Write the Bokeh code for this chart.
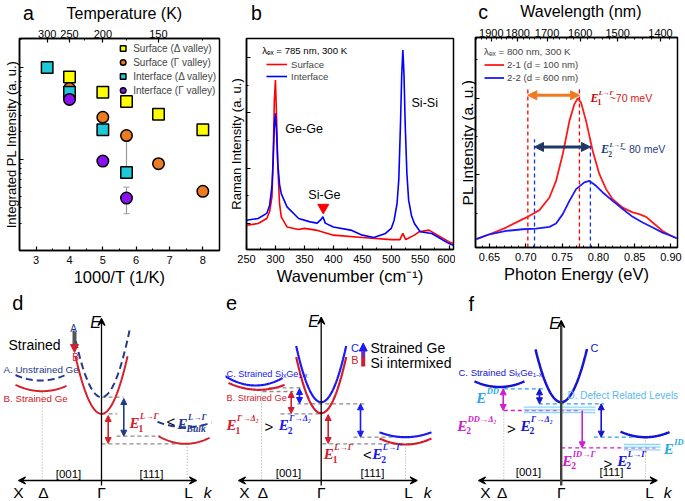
import numpy as np
from bokeh.plotting import figure
from bokeh.models import (Range1d, LinearAxis, FixedTicker, SingleIntervalTicker,
                          CustomJSTickFormatter, NumeralTickFormatter, Legend, LegendItem,
                          Arrow, NormalHead, VeeHead, ColumnDataSource, Whisker, TeeHead)
from bokeh.layouts import row, column
from bokeh.core.properties import value
from bokeh.embed import file_html
from bokeh.resources import INLINE

SANS = "Liberation Sans"
SERIF = "Liberation Serif"

# ---------------- panel a : integrated PL intensity ----------------
a_x_surf_delta = [4.0, 5.0, 5.71, 6.67, 8.0]
a_y_surf_delta = [7.9, 5.4, 4.27, 3.1, 2.1]
a_x_surf_gamma = [4.0, 5.0, 5.71, 6.67, 8.0]
a_y_surf_gamma = [5.9, 2.88, 1.82, 0.9, 0.45]
a_x_intf_delta = [3.33, 4.0, 5.0, 5.71]
a_y_intf_delta = [10.0, 5.4, 2.1, 0.72]
a_x_intf_gamma = [4.0, 5.0, 5.71]
a_y_intf_gamma = [4.5, 0.96, 0.38]
a_err_x = [5.71, 5.71]
a_err_lo = [0.74, 0.257]
a_err_hi = [1.82, 0.50]
a_temp_ticks = [300, 250, 200, 150]
a_temp_minor = [225, 175, 125]

# ---------------- panel b : Raman ----------------
b_wn_if = [250, 270, 285, 290, 294, 296, 298, 300, 302, 304, 307, 310, 320, 340, 360, 372, 378, 382,
           386, 400, 430, 450, 470, 490, 500, 505, 510, 513, 516, 518, 520, 522, 524, 527, 530, 535,
           540, 550, 570, 590, 600, 607]
b_int_if = [0.139, 0.147, 0.171, 0.21, 0.30, 0.42, 0.58, 0.645, 0.55, 0.41, 0.31, 0.265, 0.202, 0.147,
            0.131, 0.125, 0.14, 0.155, 0.125, 0.107, 0.092, 0.068, 0.057, 0.076, 0.10, 0.139, 0.218,
            0.33, 0.60, 0.82, 0.945, 0.83, 0.60, 0.36, 0.234, 0.16, 0.123, 0.084, 0.076, 0.044, 0.028,
            0.02]
b_wn_sf = [250, 270, 285, 290, 294, 296, 298, 300, 302, 304, 307, 310, 320, 340, 350, 370, 400, 450,
           500, 515, 520, 525, 540, 548, 565, 580, 600, 607]
b_int_sf = [0.115, 0.123, 0.147, 0.18, 0.25, 0.43, 0.70, 0.803, 0.62, 0.40, 0.22, 0.155, 0.107, 0.095,
            0.10, 0.092, 0.068, 0.057, 0.047, 0.047, 0.076, 0.047, 0.068, 0.084, 0.092, 0.068, 0.036,
            0.03]
b_peak_labels = ["Ge-Ge", "Si-Ge", "Si-Si"]
b_peak_x = [317, 356.7, 534.9]
b_peak_y = [0.573, 0.257, 0.692]
b_marker_x = [382.6]
b_marker_y = [0.199]

# ---------------- panel c : PL spectra ----------------
c_ev = [0.6317, 0.65, 0.6729, 0.6959, 0.7028, 0.7188, 0.7326, 0.7417, 0.7509, 0.7601, 0.767, 0.7716,
        0.7761, 0.783, 0.7922, 0.8014, 0.8106, 0.8197, 0.8335, 0.8472, 0.8564, 0.8656, 0.8748,
        0.8885, 0.90, 0.9078]
c_pl_21 = [0.040, 0.063, 0.095, 0.135, 0.146, 0.178, 0.238, 0.317, 0.444, 0.603, 0.683, 0.711, 0.690,
           0.603, 0.460, 0.349, 0.278, 0.230, 0.190, 0.167, 0.159, 0.146, 0.119, 0.079, 0.056, 0.044]
c_ev2 = [0.6317, 0.65, 0.6729, 0.6959, 0.7142, 0.7326, 0.7417, 0.7509, 0.7601, 0.7693, 0.7807, 0.7876,
         0.7968, 0.806, 0.8197, 0.8335, 0.8472, 0.861, 0.8748, 0.8885, 0.90, 0.9078]
c_pl_22 = [0.040, 0.063, 0.079, 0.087, 0.090, 0.098, 0.114, 0.159, 0.222, 0.278, 0.310, 0.317, 0.294,
           0.262, 0.222, 0.183, 0.146, 0.119, 0.095, 0.071, 0.056, 0.044]
c_wl_ticks = [1900, 1800, 1700, 1600, 1500, 1400]
c_wl_minor = list(range(1380, 1981, 20))
c_red_marks = [0.7028, 0.7739]
c_blue_marks = [0.712, 0.789]
c_red_top = 0.754
c_blue_top = 0.516
c_arrow1_y = 0.725
c_arrow2_y = 0.479

# ---------------- panels d, e, f : band schematics (reference pixel frame) ----------------
RED_D, NAVY = "#D5202B", "#1F3A8C"
RED_E, BLUE_E = "#D01E2E", "#1A1AF5"
BLUE_F, MAG, LBLUE, CYANL = "#1414D2", "#CC22CC", "#2C9CEE", "#8ED6F6"
GRAY = "#8C8C8C"

# valleys: (centre k, minimum E, curvature, k_lo, k_hi, colour, dash, width)
d_valleys = [(101, 396.7, 0.085, 73, 129, NAVY, "7 4", 2.0),
             (101, 413.3, 0.085, 75, 127, RED_D, "solid", 2.0),
             (40, 380.0, 0.0088, 15, 64, NAVY, "7 4", 2.0),
             (41.7, 390.7, 0.009, 15, 66, RED_D, "solid", 2.0),
             (185, 426.7, 0.0069, 157, 211, NAVY, "7 4", 2.0),
             (185, 443.3, 0.0105, 158, 209, RED_D, "solid", 2.0)]
e_valleys = [(320.7, 401.7, 0.09, 295.7, 345.7, BLUE_E, "solid", 2.2),
             (320.7, 412.7, 0.09, 295.7, 345.7, RED_E, "solid", 2.2),
             (255, 385.0, 0.0102, 222, 282, BLUE_E, "solid", 2.2),
             (258.3, 389.3, 0.0075, 228, 284, RED_E, "solid", 2.2),
             (405, 436.7, 0.0074, 379, 431, BLUE_E, "solid", 2.2),
             (405, 444.0, 0.009, 379, 431, RED_E, "solid", 2.2)]
f_valleys = [(560.7, 401.7, 0.08, 535, 586.5, BLUE_F, "solid", 2.5),
             (499, 386.5, 0.009, 474, 524, BLUE_F, "solid", 2.5),
             (645, 436.7, 0.009, 620, 669, BLUE_F, "solid", 2.5)]

# dashed level lines: (x0, x1, y, colour, dash)
d_levels = [(101, 123, 396.7, GRAY, "4 3"), (101, 116.7, 413.3, GRAY, "4 3"),
            (116, 160, 435.7, GRAY, "4 3"), (101, 187, 443.3, GRAY, "4 3")]
e_levels = [(268, 304, 387.3, GRAY, "4 3"), (262, 293, 391.0, GRAY, "4 3"),
            (296.7, 365, 403.3, GRAY, "4 3"), (280, 321, 413.3, GRAY, "4 3"),
            (353, 408, 436.7, GRAY, "4 3"), (321.7, 410, 443.3, GRAY, "4 3")]
f_levels = [(503.3, 545, 388.3, LBLUE, "4 3"), (538.3, 603.3, 403.3, LBLUE, "4 3"),
            (503.3, 580, 410.0, MAG, "4 3"), (593.3, 645, 436.7, LBLUE, "4 3"),
            (560.7, 655, 447.3, MAG, "4 3"),
            (523.3, 595, 406.7, CYANL, "solid"), (523.3, 595, 409.3, CYANL, "solid"),
            (523.3, 595, 412.0, CYANL, "solid"), (623.3, 660, 444.0, CYANL, "solid"),
            (623.3, 660, 446.7, CYANL, "solid"), (623.3, 660, 449.3, CYANL, "solid")]
# dotted drop lines: (x, y_top)
d_drops = [(41.7, 392), (186.7, 443.3)]
e_drops = [(261, 391), (405, 444)]
f_drops = [(503.3, 388), (645, 437)]
# axes: (k-axis x0, x1, y) and (E-axis x, y_top)
d_axes = (18, 196, 480, 101, 318)
e_axes = (238, 416.7, 480, 320.7, 316.7)
f_axes = (478, 656.7, 480, 560.7, 320)
# double arrows: (x, y0, y1, colour, heads)
d_arrows = [(123.3, 398, 435.7, NAVY, 2), (107.7, 415, 443, RED_D, 2)]
e_arrows = [(299, 388, 403, BLUE_E, 2), (290.7, 391, 413, RED_E, 2),
            (360, 403.3, 436.7, BLUE_E, 2), (327.7, 414, 443, RED_E, 2)]
f_arrows = [(539, 388.3, 403.3, BLUE_F, 2), (600.7, 403.3, 436.7, BLUE_F, 2),
            (502.7, 388.3, 410, MAG, 2), (581.7, 410, 447.3, MAG, 1)]
# texts: (x, y, text, colour, size, style, align)
KY = 491.5
d_texts = [(11.7, 302.5, "d", "black", 20, "normal", "left"),
           (95, 322, "E", "black", 16, "italic", "center"),
           (18, KY, "X", "black", 15.5, "normal", "center"), (43, KY, "Δ", "black", 15.5, "normal", "center"),
           (101, KY, "Γ", "black", 15.5, "normal", "center"), (188, KY, "L", "black", 15.5, "normal", "center"),
           (207, KY, "k", "black", 15.5, "italic", "center"),
           (68, 473, "[001]", "black", 11.5, "normal", "center"),
           (151, 473, "[111]", "black", 11.5, "normal", "center"),
           (8, 344, "Strained", "black", 14, "normal", "left"),
           (73, 328, "A", NAVY, 10, "normal", "center"), (75, 357, "B", RED_D, 10, "normal", "center"),
           (3, 369, "A. Unstrained Ge", NAVY, 9.8, "normal", "left"),
           (3, 398, "B. Strained Ge", RED_D, 9.8, "normal", "left"),
           (170.5, 421, "<", "black", 15, "normal", "center")]
e_texts = [(225.5, 302.5, "e", "black", 20, "normal", "left"),
           (313, 321, "E", "black", 16, "italic", "center"),
           (244, KY, "X", "black", 15.5, "normal", "center"), (262.5, KY, "Δ", "black", 15.5, "normal", "center"),
           (320.7, KY, "Γ", "black", 15.5, "normal", "center"), (408, KY, "L", "black", 15.5, "normal", "center"),
           (427, KY, "k", "black", 15.5, "italic", "center"),
           (288, 472.7, "[001]", "black", 11.5, "normal", "center"),
           (372, 472.7, "[111]", "black", 11.5, "normal", "center"),
           (354.5, 347.5, "C", BLUE_E, 11, "normal", "center"), (354.5, 359, "B", RED_E, 11, "normal", "center"),
           (370, 347.5, "Strained Ge", "black", 14, "normal", "left"),
           (370, 362.5, "Si intermixed", "black", 14, "normal", "left"),
           (226, 373.5, "C. Strained SiₓGe₁₋ₓ", BLUE_E, 9.2, "normal", "left"),
           (226, 397.5, "B. Strained Ge", RED_E, 9.2, "normal", "left"),
           (268.5, 426, ">", "black", 15, "normal", "center"),
           (367, 454, "<", "black", 15, "normal", "center")]
f_texts = [(468, 303.5, "f", "black", 20, "normal", "left"),
           (554, 323, "E", "black", 16, "italic", "center"),
           (485, KY, "X", "black", 15.5, "normal", "center"), (501.7, KY, "Δ", "black", 15.5, "normal", "center"),
           (560.7, KY, "Γ", "black", 15.5, "normal", "center"), (649, KY, "L", "black", 15.5, "normal", "center"),
           (667, KY, "k", "black", 15.5, "italic", "center"),
           (528, 471.7, "[001]", "black", 11.5, "normal", "center"),
           (611, 471.7, "[111]", "black", 11.5, "normal", "center"),
           (594, 347.5, "C", BLUE_F, 11, "normal", "center"),
           (458, 371.7, "C. Strained SiₓGe₁₋ₓ", BLUE_F, 9.5, "normal", "left"),
           (567, 395, "D. Defect Related Levels", "#5DB8F0", 10, "normal", "left"),
           (511, 428, ">", "black", 15, "normal", "center"),
           (607.5, 463, ">", "black", 15, "normal", "center")]
# energy symbols: (x, y, subscript, superscript, colour, size, italic_sub)
d_eqs = [(129, 422.5, "1", "L→Γ", RED_D, 15, False), (177, 423, "Bulk", "L→Γ", NAVY, 15, True)]
e_eqs = [(226, 424.7, "1", "Γ→Δ₂", RED_E, 15, False), (278.3, 424.7, "2", "Γ→Δ₂", BLUE_E, 15, False),
         (323.3, 453.3, "1", "L→Γ", RED_E, 15, False), (371.7, 453.3, "2", "L→Γ", BLUE_E, 15, False)]
f_eqs = [(475.7, 397.5, "", "DD", "#2AA8E8", 15, False), (456.7, 425, "2", "DD→Δ₂", MAG, 15, False),
         (520, 425, "2", "Γ→Δ₂", BLUE_F, 15, False), (663.3, 448.3, "", "ID", "#2AA8E8", 15, False),
         (561.7, 460, "2", "ID→Γ", MAG, 15, False), (616.7, 460, "2", "L→Γ", BLUE_F, 15, False)]

# header texts above panels a-c: (x, y, text, size, baseline, align) in header pixels
ha_texts = [(4, 12, "a", 19.5, "middle", "left"), (118, 12.5, "Temperature (K)", 16, "middle", "center")]
hb_texts = [(5, 12, "b", 19.5, "middle", "left")]
hc_texts = [(3, 11.5, "c", 19.5, "middle", "left"), (120, 11, "Wavelength (nm)", 16, "middle", "center")]


# ---------------- helpers ----------------
def style_axis(ax, label_size="16.5px", tick_size="11px", hide=False):
    ax.axis_label_text_font = SANS
    ax.axis_label_text_font_style = "normal"
    ax.axis_label_text_font_size = label_size
    ax.axis_label_text_color = "black"
    ax.major_label_text_font = SANS
    ax.major_label_text_font_size = tick_size
    ax.major_label_text_color = "black"
    ax.axis_line_color = "black"
    ax.axis_line_width = 1.5
    ax.major_tick_in = 4
    ax.major_tick_out = 0
    ax.minor_tick_in = 2
    ax.minor_tick_out = 0
    ax.major_tick_line_color = "black"
    ax.minor_tick_line_color = "black"
    ax.major_tick_line_width = 1.2
    ax.major_label_standoff = 5
    ax.axis_label_standoff = 1
    if hide:
        ax.formatter = CustomJSTickFormatter(code="return ''")
        ax.major_label_standoff = 0


def base_fig(w, h, xr, yr, borders, ytype="linear"):
    l, r, t, b = borders
    p = figure(width=w, height=h, x_range=xr, y_range=yr, y_axis_type=ytype, title=None,
               output_backend="svg", toolbar_location=None,
               min_border_left=l, min_border_right=r, min_border_top=t, min_border_bottom=b)
    p.grid.visible = False
    p.outline_line_color = "black"
    p.outline_line_width = 1.5
    p.outline_line_alpha = 1
    p.background_fill_color = "white"
    p.border_fill_color = "white"
    return p


def blank_fig(w, h, xr, yr):
    p = figure(width=w, height=h, x_range=Range1d(*xr), y_range=Range1d(*yr), title=None,
               x_axis_type=None, y_axis_type=None, output_backend="svg", toolbar_location=None,
               min_border=0, min_border_left=0, min_border_right=0, min_border_top=0,
               min_border_bottom=0)
    p.outline_line_color = None
    p.grid.visible = False
    p.background_fill_color = "white"
    p.border_fill_color = "white"
    return p


def header(w, h, texts):
    p = blank_fig(w, h, (0, w), (h, 0))
    for x, y, t, s, bl, al in texts:
        p.text(x=[x], y=[y], text=[t], text_font=value(SANS), text_font_size=f"{s}px",
               text_baseline=bl, text_align=al, text_color="black")
    return p


def eq(p, x, y, sub, sup, color, es, italic_sub=False):
    common = dict(text_color=color, text_baseline="middle", text_align="left",
                  text_font=value(SERIF))
    p.text(x=[x], y=[y], text=["E"], text_font_style="bold italic",
           text_font_size=f"{es:.1f}px", **common)
    if sub:
        p.text(x=[x], y=[y], text=[sub], x_offset=0.6 * es, y_offset=0.36 * es,
               text_font_style="bold italic" if italic_sub else "bold",
               text_font_size=f"{0.64 * es:.1f}px", **common)
    if sup:
        p.text(x=[x], y=[y], text=[sup], x_offset=0.7 * es, y_offset=-0.42 * es,
               text_font_style="bold italic", text_font_size=f"{0.56 * es:.1f}px", **common)


# ---------------- panel a ----------------
pa = base_fig(225, 266, Range1d(2.5, 8.5), Range1d(0.1023, 20.7), (17, 6, 14, 40), ytype="log")
mk = dict(size=11.5, line_color="black", line_width=1.5)
pa.add_layout(Whisker(source=ColumnDataSource(dict(x=a_err_x, lo=a_err_lo, hi=a_err_hi)),
                      base="x", lower="lo", upper="hi", dimension="height",
                      line_color="#9A9A9A", line_width=1.2,
                      lower_head=TeeHead(size=6, line_color="#9A9A9A"),
                      upper_head=TeeHead(size=6, line_color="#9A9A9A")))
r1 = pa.scatter(a_x_surf_delta, a_y_surf_delta, marker="square", fill_color="#FFFF00", **mk)
r2 = pa.scatter(a_x_surf_gamma, a_y_surf_gamma, marker="circle", fill_color="#EE7A22", **mk)
r3 = pa.scatter(a_x_intf_delta, a_y_intf_delta, marker="square", fill_color="#1ECAD8", **mk)
r4 = pa.scatter(a_x_intf_gamma, a_y_intf_gamma, marker="circle", fill_color="#8A12F0", **mk)
leg_a = Legend(items=[LegendItem(label="Surface (Δ valley)", renderers=[r1]),
                      LegendItem(label="Surface (Γ valley)", renderers=[r2]),
                      LegendItem(label="Interface (Δ valley)", renderers=[r3]),
                      LegendItem(label="Interface (Γ valley)", renderers=[r4])],
               location="top_right", margin=3, padding=0, spacing=0, glyph_width=15, glyph_height=14,
               label_standoff=3, label_text_font=SANS, label_text_font_size="10px",
               background_fill_alpha=0, border_line_alpha=0, label_height=14)
pa.add_layout(leg_a)
pa.xaxis.ticker = SingleIntervalTicker(interval=1, num_minor_ticks=2)
pa.xaxis.axis_label = "1000/T (1/K)"
pa.yaxis.ticker = FixedTicker(ticks=[1, 10],
                              minor_ticks=[k * 10.0 ** e for e in (-1, 0, 1) for k in range(2, 10)])
pa.yaxis.axis_label = "Integrated PL Intensity (a. u.)"
style_axis(pa.xaxis[0])
style_axis(pa.yaxis[0], label_size="13px", hide=True)
pa.yaxis.axis_label_standoff = 1
top_a = LinearAxis(ticker=FixedTicker(ticks=[1000 / t for t in a_temp_ticks],
                                      minor_ticks=[1000 / t for t in a_temp_minor]),
                   formatter=CustomJSTickFormatter(code="return (1000/tick).toFixed(0)"))
style_axis(top_a)
top_a.major_label_standoff = 1
pa.add_layout(top_a, "above")
ha = header(225, 24, ha_texts)

# ---------------- panel b ----------------
pb = base_fig(230, 266, Range1d(250, 607.5), Range1d(0, 1), (21, 2, 14, 41))
rs = pb.line(b_wn_sf, b_int_sf, line_color="#FF0000", line_width=1.6)
ri = pb.line(b_wn_if, b_int_if, line_color="#0000FF", line_width=1.6)
leg_b = Legend(items=[LegendItem(label="Surface", renderers=[rs]),
                      LegendItem(label="Interface", renderers=[ri])],
               location="top_left", margin=20, padding=0, spacing=0, glyph_width=21, glyph_height=12,
               label_standoff=4, label_text_font=SANS, label_text_font_size="9.6px",
               background_fill_alpha=0, border_line_alpha=0, label_height=12)
pb.add_layout(leg_b)
pb.text(x=[277.1], y=[0.945], text=["λₑₓ = 785 nm, 300 K"], text_font=value(SANS),
        text_font_size="9.6px", text_baseline="middle", text_align="left", text_color="black")
pb.text(x=b_peak_x, y=b_peak_y, text=b_peak_labels, text_font=value(SANS), text_font_size="12.6px",
        text_baseline="middle", text_align="left", text_color="black")
pb.scatter(b_marker_x, b_marker_y, marker="inverted_triangle", size=11, fill_color="#FF0000",
           line_color="#FF0000")
pb.xaxis.ticker = SingleIntervalTicker(interval=50, num_minor_ticks=2)
pb.xaxis.axis_label = "Wavenumber (cm⁻¹)"
pb.yaxis.ticker = FixedTicker(ticks=[0.123, 0.385, 0.647, 0.909], minor_ticks=[0.254, 0.516, 0.778])
pb.yaxis.axis_label = "Raman Intensity (a. u.)"
style_axis(pb.xaxis[0])
style_axis(pb.yaxis[0], label_size="13px", hide=True)
pb.yaxis.axis_label_standoff = 3
hb = header(230, 24, hb_texts)

# ---------------- panel c ----------------
pc = base_fig(230, 267, Range1d(0.6307, 0.909), Range1d(0, 1), (19, 8, 14, 43))
pc.segment(x0=c_red_marks, y0=[0, 0], x1=c_red_marks, y1=[c_red_top] * 2,
           line_color="#FF0000", line_width=1.3, line_dash="4 3")
pc.segment(x0=c_blue_marks, y0=[0, 0], x1=c_blue_marks, y1=[c_blue_top] * 2,
           line_color="#1030FF", line_width=1.3, line_dash="4 3")
r21 = pc.line(c_ev, c_pl_21, line_color="#FF1A1A", line_width=1.8)
r22 = pc.line(c_ev2, c_pl_22, line_color="#1A1AFF", line_width=1.8)
leg_c = Legend(items=[LegendItem(label="2-1 (d = 100 nm)", renderers=[r21]),
                      LegendItem(label="2-2 (d = 600 nm)", renderers=[r22])],
               title="λₑₓ = 800 nm, 300 K", title_text_font=SANS, title_text_font_size="9.8px",
               title_text_font_style="normal", title_standoff=1,
               location="top_left", margin=9, padding=0, spacing=0, glyph_width=20, glyph_height=13,
               label_standoff=3, label_text_font=SANS, label_text_font_size="9.6px",
               background_fill_alpha=0, border_line_alpha=0, label_height=13)
pc.add_layout(leg_c)
ORANGE, DNAVY = "#F07A22", "#1F3864"
pc.add_layout(Arrow(x_start=c_red_marks[0], y_start=c_arrow1_y, x_end=c_red_marks[1], y_end=c_arrow1_y,
                    line_color=ORANGE, line_width=3,
                    start=NormalHead(size=9, fill_color=ORANGE, line_color=ORANGE),
                    end=NormalHead(size=9, fill_color=ORANGE, line_color=ORANGE)))
pc.add_layout(Arrow(x_start=c_blue_marks[0], y_start=c_arrow2_y, x_end=c_blue_marks[1], y_end=c_arrow2_y,
                    line_color=DNAVY, line_width=3,
                    start=NormalHead(size=9, fill_color=DNAVY, line_color=DNAVY),
                    end=NormalHead(size=9, fill_color=DNAVY, line_color=DNAVY)))
eq(pc, 0.789, 0.712, "1", "L→Γ", "#C80000", 12)
pc.text(x=[0.8155], y=[0.712], text=["~70 meV"], text_font=value(SANS), text_font_size="10.6px",
        text_baseline="middle", text_align="left", text_color="#D42020")
eq(pc, 0.8037, 0.468, "2", "L→Γ", "#1F3C70", 12)
pc.text(x=[0.8295], y=[0.468], text=["~ 80 meV"], text_font=value(SANS), text_font_size="10.6px",
        text_baseline="middle", text_align="left", text_color="#2A4080")
pc.xaxis.ticker = SingleIntervalTicker(interval=0.05, num_minor_ticks=5)
pc.xaxis.formatter = NumeralTickFormatter(format="0.00")
pc.xaxis.axis_label = "Photon Energy (eV)"
pc.yaxis.ticker = FixedTicker(ticks=[0.346, 0.711], minor_ticks=[0.163, 0.528, 0.894])
pc.yaxis.axis_label = "PL Intensity (a. u.)"
style_axis(pc.xaxis[0])
style_axis(pc.yaxis[0], label_size="15.5px", hide=True)
pc.yaxis.axis_label_standoff = 0
top_c = LinearAxis(ticker=FixedTicker(ticks=[1239.84 / w for w in c_wl_ticks],
                                      minor_ticks=[1239.84 / w for w in c_wl_minor]),
                   formatter=CustomJSTickFormatter(code="return (1239.84/tick).toFixed(0)"))
style_axis(top_c)
top_c.major_label_standoff = 1
pc.add_layout(top_c, "above")
hc = header(230, 23, hc_texts)


# ---------------- schematic panels ----------------
def diagram(w, xr, valleys, levels, drops, axes, arrows, texts, eqs, e_axis_color="black", e_axis_w=1.3):
    p = blank_fig(w, 211, xr, (501, 290))
    kx0, kx1, ky, ex, ey = axes
    p.segment(x0=[d[0] for d in drops], y0=[d[1] for d in drops], x1=[d[0] for d in drops],
              y1=[ky] * len(drops), line_color="#9A9A9A", line_width=0.9, line_dash="1 2")
    for x0, x1, y, c, dash in levels:
        p.segment(x0=[x0], y0=[y], x1=[x1], y1=[y], line_color=c, line_width=1.3, line_dash=dash)
    for xc, ym, a, lo, hi, c, dash, lw in valleys:
        k = np.linspace(lo, hi, 80)
        p.line(k, ym - a * (k - xc) ** 2, line_color=c, line_width=lw, line_dash=dash)
    p.add_layout(Arrow(x_start=kx0, y_start=ky, x_end=kx1, y_end=ky, line_color="black", line_width=1.3,
                       start=VeeHead(size=7, line_color="black", line_width=1.3, fill_color="black"),
                       end=VeeHead(size=7, line_color="black", line_width=1.3, fill_color="black")))
    p.add_layout(Arrow(x_start=ex, y_start=ky + 5, x_end=ex, y_end=ey, line_color=e_axis_color,
                       line_width=e_axis_w,
                       end=VeeHead(size=7, line_color="black", line_width=1.3, fill_color="black")))
    for x, y0, y1, c, heads in arrows:
        hd = dict(size=6, fill_color=c, line_color=c)
        p.add_layout(Arrow(x_start=x, y_start=y0, x_end=x, y_end=y1, line_color=c, line_width=1.6,
                           start=NormalHead(**hd) if heads == 2 else None, end=NormalHead(**hd)))
    for x, y, t, c, s, st, al in texts:
        p.text(x=[x], y=[y], text=[t], text_color=c, text_font=value(SANS),
               text_font_size=f"{s:.1f}px", text_font_style=st, text_align=al,
               text_baseline="middle")
    for x, y, sub, sup, c, s, isub in eqs:
        eq(p, x, y, sub, sup, c, s, isub)
    return p


pd_ = diagram(225, (0, 225), d_valleys, d_levels, d_drops, d_axes, d_arrows, d_texts, d_eqs)
pd_.add_layout(Arrow(x_start=74, y_start=331, x_end=74, y_end=352, line_color="#555555", line_width=4,
                     end=NormalHead(size=8, fill_color=RED_D, line_color=RED_D)))
pe_ = diagram(230, (225, 455), e_valleys, e_levels, e_drops, e_axes, e_arrows, e_texts, e_eqs)
pe_.segment(x0=[362.7], y0=[366], x1=[362.7], y1=[356], line_color=RED_E, line_width=4)
pe_.add_layout(Arrow(x_start=362.7, y_start=357, x_end=362.7, y_end=342.5, line_color="#7A2AB0",
                     line_width=4, end=NormalHead(size=8, fill_color=BLUE_E, line_color=BLUE_E)))
pf_ = diagram(230, (455, 685), f_valleys, f_levels, f_drops, f_axes, f_arrows, f_texts, f_eqs,
              e_axis_color="#404040", e_axis_w=2.4)

layout = column(row(column(ha, pa), column(hb, pb), column(hc, pc)), row(pd_, pe_, pf_))
open("out.html", "w").write(file_html(layout, INLINE))
